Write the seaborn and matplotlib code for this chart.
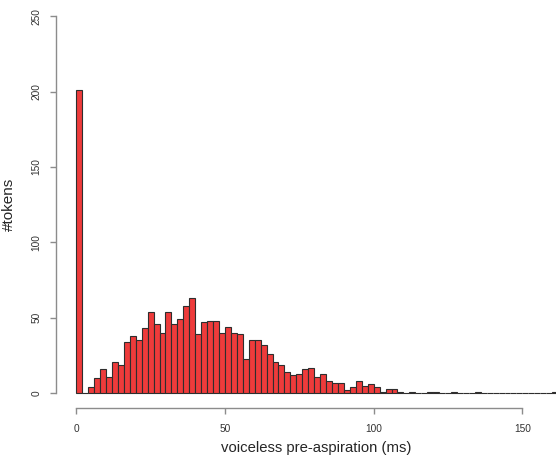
import numpy as np
import pandas as pd
import matplotlib
matplotlib.use("Agg")
import matplotlib.pyplot as plt
import seaborn as sns

# bin left edges (ms), 2 ms wide bins
bin_left = list(range(0, 162, 2))
counts = [201, 0, 4, 10, 16, 11, 21, 19, 34, 38,
          35, 43, 54, 46, 40, 54, 46, 49, 58, 63,
          39, 47, 48, 48, 40, 44, 40, 39, 23, 35,
          35, 32, 26, 21, 19, 14, 12, 13, 16, 17,
          11, 13, 8, 7, 7, 2, 4, 8, 5, 6,
          4, 1, 3, 3, 1, 0, 1, 0, 0, 1,
          1, 0, 0, 1, 0, 0, 0, 1, 0, 0,
          0, 0, 0, 0, 0, 0, 0, 0, 0, 0,
          1]
x_ticks = [0, 50, 100, 150]
y_ticks = [0, 50, 100, 150, 200, 250]

df = pd.DataFrame({"ms": [b + 1 for b in bin_left], "n": counts})

sns.set_style("white")
plt.rcParams['font.family'] = ['Liberation Sans', 'DejaVu Sans']

fig = plt.figure(figsize=(5.56, 4.57), dpi=100)
ax = fig.add_axes([56 / 556, 48.7 / 457, 500 / 556, 407.3 / 457])

sns.histplot(data=df, x="ms", weights="n", binwidth=2, binrange=(0, 162),
             color="#EE3B3B", edgecolor="#2e2e2e", linewidth=0.8,
             alpha=1, ax=ax)

ax.set_xlim(-6.8, 161.3)
ax.set_ylim(-10, 260)

# R-style axes
for s in ["top", "right"]:
    ax.spines[s].set_visible(False)
ax.spines["left"].set_bounds(0, 250)
ax.spines["bottom"].set_bounds(0, 150)
for s in ["left", "bottom"]:
    ax.spines[s].set_color("#8c8c8c")
    ax.spines[s].set_linewidth(1.0)

ax.set_xticks(x_ticks)
ax.set_yticks(y_ticks)
ax.tick_params(axis="both", direction="out", length=4.3, width=1.0,
               color="#8c8c8c", labelsize=7.3, labelcolor="#333333",
               bottom=True, left=True)
ax.tick_params(axis="x", pad=7)
ax.tick_params(axis="y", pad=6)
for lab in ax.get_yticklabels():
    lab.set_rotation(90)
    lab.set_va("center")

ax.set_xlabel("voiceless pre-aspiration (ms)", fontsize=10.7)
ax.xaxis.set_label_coords(0.52, -0.081)
ax.set_ylabel("#tokens", fontsize=11, labelpad=11)

fig.savefig("out.png", dpi=100)
